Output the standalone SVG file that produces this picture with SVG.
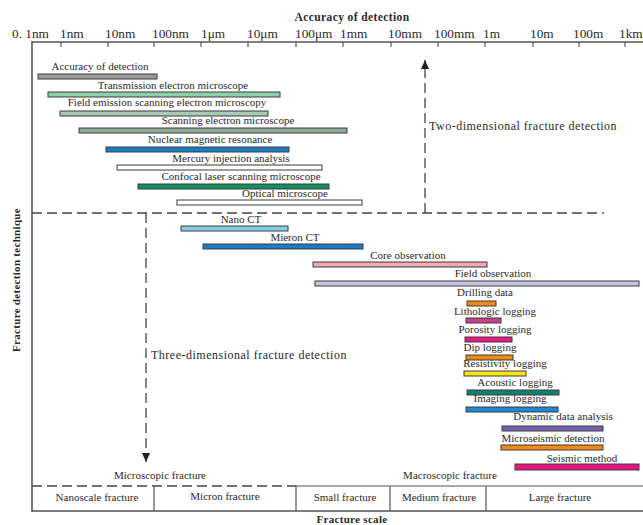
<svg xmlns="http://www.w3.org/2000/svg" width="643" height="525" viewBox="0 0 643 525">
<defs>
<style>
text{font-family:"Liberation Serif","Times New Roman",serif;fill:#2a2a2a}
.t{font-size:13.3px}
.lb{font-size:11px;text-anchor:middle}
.bold{font-weight:bold}
.bar{stroke:#3a3a3a;stroke-width:1}
.ax{stroke:#555;stroke-width:1.6;fill:none}
.tick{stroke:#555;stroke-width:1.2}
.dash{stroke:#444;stroke-width:1.3;stroke-dasharray:10 5;fill:none}
.bt{font-size:11px;text-anchor:middle}
.big{font-size:12px;letter-spacing:0.5px}
</style>
<marker id="ah" markerWidth="10" markerHeight="8" refX="9" refY="4" orient="auto" markerUnits="userSpaceOnUse">
<path d="M0,0 L9,4 L0,8 Z" fill="#222"/>
</marker>
</defs>
<rect width="643" height="525" fill="#fff"/>

<g id="axes">
<text x="352" y="21" class="bold" style="font-size:11.5px;text-anchor:middle;letter-spacing:0.4px">Accuracy of detection</text>
<line class="ax" x1="32" y1="42" x2="643" y2="42"/>
<line class="ax" x1="32" y1="41" x2="32" y2="512"/>
<g class="tick">
<line x1="61" y1="42" x2="61" y2="47"/><line x1="108" y1="42" x2="108" y2="47"/><line x1="154" y1="42" x2="154" y2="47"/>
<line x1="201" y1="42" x2="201" y2="47"/><line x1="248" y1="42" x2="248" y2="47"/><line x1="296" y1="42" x2="296" y2="47"/>
<line x1="343" y1="42" x2="343" y2="47"/><line x1="391" y1="42" x2="391" y2="47"/><line x1="438" y1="42" x2="438" y2="47"/>
<line x1="485" y1="42" x2="485" y2="47"/><line x1="533" y1="42" x2="533" y2="47"/><line x1="579" y1="42" x2="579" y2="47"/>
<line x1="625" y1="42" x2="625" y2="47"/>
</g>
<text class="t" x="12" y="38">0. 1nm</text>
<text class="t" x="60" y="38">1nm</text>
<text class="t" x="105" y="38">10nm</text>
<text class="t" x="152" y="38">100nm</text>
<text class="t" x="201" y="38">1μm</text>
<text class="t" x="247" y="38">10μm</text>
<text class="t" x="295" y="38">100μm</text>
<text class="t" x="340" y="38">1mm</text>
<text class="t" x="388" y="38">10mm</text>
<text class="t" x="434" y="38">100mm</text>
<text class="t" x="483" y="38">1m</text>
<text class="t" x="530" y="38">10m</text>
<text class="t" x="573" y="38">100m</text>
<text class="t" x="619" y="38">1km</text>
<text class="bold" transform="translate(20,280) rotate(-90)" style="font-size:11px;text-anchor:middle;letter-spacing:0.3px">Fracture detection technique</text>
</g>

<g id="connectors">
<line class="dash" x1="32" y1="213" x2="604" y2="213"/>
<line class="dash" x1="425" y1="213" x2="425" y2="60" marker-end="url(#ah)"/>
<line class="dash" x1="146" y1="213" x2="146" y2="462" marker-end="url(#ah)"/>
</g>
<text class="big" x="429" y="130">Two-dimensional fracture detection</text>
<text class="big" x="151" y="359">Three-dimensional fracture detection</text>

<g id="n1"><rect class="bar" x="38" y="74" width="119" height="5" fill="#9a9a9a"/><text class="lb" x="100" y="70">Accuracy of detection</text></g>
<g id="n2"><rect class="bar" x="48" y="92" width="232" height="5" fill="#8dd0ac"/><text class="lb" x="173" y="89">Transmission electron microscope</text></g>
<g id="n3"><rect class="bar" x="60" y="111" width="208" height="5" fill="#a9c9b9"/><text class="lb" x="167" y="106">Field emission scanning electron microscopy</text></g>
<g id="n4"><rect class="bar" x="79" y="128" width="268" height="5" fill="#93aa9a"/><text class="lb" x="228" y="124">Scanning electron microscope</text></g>
<g id="n5"><rect class="bar" x="106" y="147" width="183" height="5" fill="#1a7cc6"/><text class="lb" x="210" y="143">Nuclear magnetic resonance</text></g>
<g id="n6"><rect class="bar" x="117" y="165" width="205" height="5" fill="#ffffff"/><text class="lb" x="231" y="162">Mercury injection analysis</text></g>
<g id="n7"><rect class="bar" x="138" y="184" width="191" height="5" fill="#12905c"/><text class="lb" x="241" y="180">Confocal laser scanning microscope</text></g>
<g id="n8"><rect class="bar" x="177" y="200" width="185" height="5" fill="#ffffff"/><text class="lb" x="285" y="197">Optical microscope</text></g>
<g id="n9"><rect class="bar" x="181" y="226" width="107" height="5" fill="#86cdea"/><text class="lb" x="241" y="223">Nano CT</text></g>
<g id="n10"><rect class="bar" x="203" y="244" width="160" height="5" fill="#1d7bc8"/><text class="lb" x="295" y="241">Mieron CT</text></g>
<g id="n11"><rect class="bar" x="313" y="262" width="174" height="5" fill="#f2aab2"/><text class="lb" x="408" y="259">Core observation</text></g>
<g id="n12"><rect class="bar" x="315" y="281" width="324" height="5" fill="#cbc3e2"/><text class="lb" x="493" y="277">Field observation</text></g>
<g id="n13"><rect class="bar" x="467" y="301" width="29" height="5" fill="#f28a1a"/><text class="lb" x="485" y="296">Drilling data</text></g>
<g id="n14"><rect class="bar" x="466" y="318" width="35" height="5" fill="#c8408e"/><text class="lb" x="495" y="315">Lithologic logging</text></g>
<g id="n15"><rect class="bar" x="465" y="337" width="47" height="5" fill="#ea168c"/><text class="lb" x="495" y="333">Porosity logging</text></g>
<g id="n16"><rect class="bar" x="466" y="355" width="47" height="5" fill="#f28a1a"/><text class="lb" x="490" y="351">Dip logging</text></g>
<g id="n17"><rect class="bar" x="464" y="371" width="62" height="5" fill="#f6e614"/><text class="lb" x="505" y="367">Resistivity logging</text></g>
<g id="n18"><rect class="bar" x="467" y="390" width="92" height="5" fill="#128070"/><text class="lb" x="515" y="386">Acoustic logging</text></g>
<g id="n19"><rect class="bar" x="466" y="407" width="92" height="5" fill="#2088d2"/><text class="lb" x="510" y="402">Imaging logging</text></g>
<g id="n20"><rect class="bar" x="502" y="426" width="101" height="5" fill="#7262b0"/><text class="lb" x="563" y="420">Dynamic data analysis</text></g>
<g id="n21"><rect class="bar" x="501" y="445" width="102" height="5" fill="#f28a1a"/><text class="lb" x="553" y="442">Microseismic detection</text></g>
<g id="n22"><rect class="bar" x="515" y="464" width="124" height="6" fill="#e8147e"/><text class="lb" x="582" y="462">Seismic method</text></g>

<g id="scale">
<text class="bt" x="160" y="479">Microscopic fracture</text>
<text class="bt" x="450" y="479">Macroscopic fracture</text>
<line class="dash" x1="32" y1="486" x2="296" y2="486"/>
<line class="tick" x1="296" y1="486" x2="643" y2="486"/>
<line class="ax" x1="32" y1="511" x2="643" y2="511"/>
<line class="tick" x1="154" y1="486" x2="154" y2="511"/>
<line class="tick" x1="296" y1="486" x2="296" y2="511"/>
<line class="tick" x1="390" y1="486" x2="390" y2="511"/>
<line class="tick" x1="486" y1="486" x2="486" y2="511"/>
<text class="bt" x="97" y="501">Nanoscale fracture</text>
<text class="bt" x="225" y="500">Micron fracture</text>
<text class="bt" x="345" y="501">Small fracture</text>
<text class="bt" x="439" y="501">Medium fracture</text>
<text class="bt" x="560" y="501">Large fracture</text>
<text class="bold" x="352" y="523" style="font-size:11px;text-anchor:middle;letter-spacing:0.3px">Fracture scale</text>
</g>
</svg>
